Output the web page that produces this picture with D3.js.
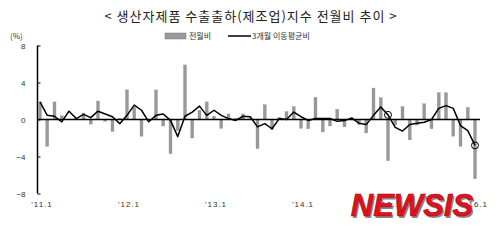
<!DOCTYPE html>
<html>
<head>
<meta charset="utf-8">
<script src="https://cdn.jsdelivr.net/npm/d3@7"></script>
<style>
  body { margin: 0; background: #fff; }
  svg text { font-family: "Noto Sans CJK KR", "Noto Sans", sans-serif; }
</style>
</head>
<body>
<div id="chart"></div>
<script>
// monthly, 2011.1 .. 2016.1
const months = d3.range(61).map(i => new Date(2011, i, 1));
const xTickMonths = [0, 12, 24, 36, 48, 60];
const xTickLabels = ["'11.1", "'12.1", "'13.1", "'14.1", "'15.1", "'16.1"];
const yTicks = [-8, -4, 0, 4, 8];

// 전월비 (%)
const monthlyChange = [
  1.9, -2.9, 1.9, 0.4, 0, 0.1, 0.7, -0.5, 2.0, -0.2,
  -1.3, 0.1, 3.2, 1.3, -1.8, -0.1, 3.2, -0.7, -3.7, -1.2,
  5.9, -2.0, 1.0, 1.9, 0.35, -0.95, 0.6, 0.1, 0.6, 0.1,
  -3.15, 1.6, -1.1, 0.2, 0.85, 1.4, -0.95, -1.0, 2.4, -1.35,
  -0.7, 1.1, -0.8, 0.2, -0.55, -1.45, 3.4, 2.35, -4.45, -0.6,
  1.4, -2.2, -0.6, 1.7, -1.0, 2.9, 2.9, -1.8, -2.9, 1.3,
  -6.4
];

// 3개월 이동평균비 (%)
const movingAvg = [
  1.9, 0.45, 0.35, -0.25, 0.9, 0.1, 0.55, 0.2, 0.9, 0.6,
  0.3, -0.45, 0.45, 1.55, 1.0, -0.25, 0.45, 0.6, -0.1, -1.85,
  0.35, 0.8, 1.45, 0.45, 1.0, 0.45, 0.1, -0.1, 0.35, 0.3,
  -0.8, -0.45, -1.0, 0.1, 0, 0.8, 0.3, -0.1, 0.1, 0.1,
  0.1, -0.2, -0.1, 0.15, -0.4, -0.55, 0.45, 1.35, 0.5, -0.85,
  -1.25, -0.55, -0.4, -0.3, 0, 1.2, 1.5, 1.2, -0.65, -1.2,
  -2.8
];
const circled = [48, 60];

const width = 500, height = 240;

const svg = d3.select('#chart').append('svg')
  .attr('width', width)
  .attr('height', height);

const x = d3.scaleLinear().domain([0, 60]).range([40, 475]);
const y = d3.scaleLinear().domain([-8, 8]).range([193.5, 45.5]);

// title
svg.append('text')
  .attr('x', 251).attr('y', 21)
  .attr('text-anchor', 'middle')
  .attr('font-size', 13)
  .attr('letter-spacing', 1)
  .attr('fill', '#222')
  .text('< 생산자제품 수출출하(제조업)지수 전월비 추이 >');

svg.append('text')
  .attr('x', 10).attr('y', 39)
  .attr('font-size', 8)
  .attr('fill', '#333')
  .text('(%)');

// legend
const legend = svg.append('g').attr('font-size', 8).attr('fill', '#333');
legend.append('rect')
  .attr('x', 165).attr('y', 33).attr('width', 21).attr('height', 6)
  .attr('fill', '#9a9a9a').attr('stroke', '#777').attr('stroke-width', 0.5);
legend.append('text').attr('x', 189).attr('y', 39).text('전월비');
legend.append('line')
  .attr('x1', 228).attr('x2', 251).attr('y1', 36).attr('y2', 36)
  .attr('stroke', '#000').attr('stroke-width', 1.5);
legend.append('text').attr('x', 252).attr('y', 39).text('3개월 이동평균비');

// y axis
const yAxis = d3.axisLeft(y)
  .tickValues(yTicks)
  .tickSize(-3)
  .tickPadding(12)
  .tickFormat(d3.format('d'));

svg.append('g')
  .attr('transform', 'translate(37.5,0)')
  .call(yAxis)
  .call(g => g.select('.domain').attr('stroke-width', 1.5).attr('d', `M0,${y(8)}V${y(-8)}`))
  .call(g => g.selectAll('text').attr('font-size', 8).attr('fill', '#333')
    .style('font-family', '"Liberation Sans", Arial, sans-serif'));

// bars
const barW = 3;
svg.append('g')
  .selectAll('rect')
  .data(monthlyChange)
  .join('rect')
    .attr('x', (d, i) => x(i) - barW / 2)
    .attr('y', d => y(Math.max(0, d)))
    .attr('width', barW)
    .attr('height', d => Math.abs(y(d) - y(0)))
    .attr('fill', '#999')
    .attr('stroke', '#888')
    .attr('stroke-width', 0.3);

// zero line
svg.append('line')
  .attr('x1', 37.5).attr('x2', 480)
  .attr('y1', y(0)).attr('y2', y(0))
  .attr('stroke', '#000').attr('stroke-width', 1.5);

// moving average
const line = d3.line()
  .x((d, i) => x(i))
  .y(d => y(d));

svg.append('path')
  .datum(movingAvg)
  .attr('d', line)
  .attr('fill', 'none')
  .attr('stroke', '#000')
  .attr('stroke-width', 1.5)
  .attr('stroke-linejoin', 'round');

svg.append('g')
  .selectAll('circle')
  .data(circled)
  .join('circle')
    .attr('cx', i => x(i))
    .attr('cy', i => y(movingAvg[i]))
    .attr('r', 3.5)
    .attr('fill', 'none')
    .attr('stroke', '#000')
    .attr('stroke-width', 1);

// x labels
const xAxis = d3.axisBottom(x)
  .tickValues(xTickMonths)
  .tickSize(0)
  .tickPadding(0)
  .tickFormat((d, i) => xTickLabels[i]);

svg.append('g')
  .attr('transform', 'translate(1.5,201)')
  .call(xAxis)
  .call(g => g.select('.domain').remove())
  .call(g => g.selectAll('text').attr('font-size', 8).attr('fill', '#333')
    .attr('letter-spacing', 1)
    .style('font-family', '"Liberation Sans", Arial, sans-serif'));

// watermark
const wm = svg.append('g').attr('transform', 'translate(412,216)');
wm.append('text')
  .attr('x', 1.5).attr('y', 1.5)
  .attr('text-anchor', 'middle')
  .attr('font-size', 31).attr('font-weight', 900).attr('font-style', 'italic')
  .attr('fill', '#888')
  .style('font-family', '"Liberation Sans", Arial, sans-serif')
  .text('NEWSIS');
wm.append('text')
  .attr('text-anchor', 'middle')
  .attr('font-size', 31).attr('font-weight', 900).attr('font-style', 'italic')
  .attr('fill', '#e0121c')
  .attr('stroke', '#b00010').attr('stroke-width', 0.6)
  .style('font-family', '"Liberation Sans", Arial, sans-serif')
  .text('NEWSIS');
</script>
</body>
</html>
